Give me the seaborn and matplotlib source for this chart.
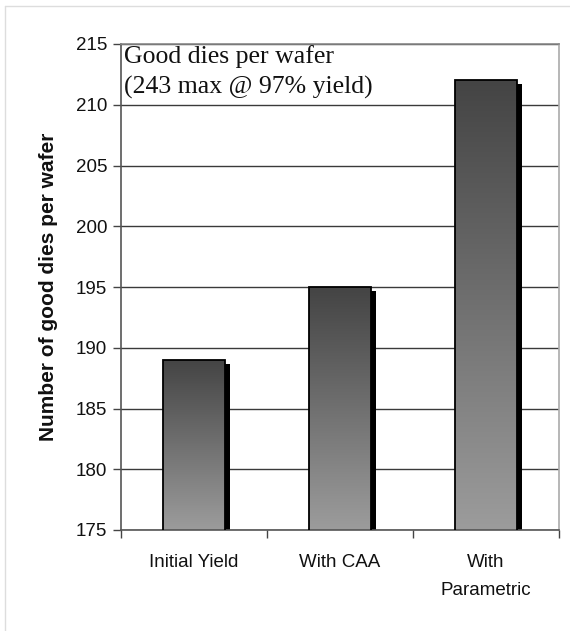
import numpy as np
import pandas as pd
import matplotlib
matplotlib.use("Agg")
import matplotlib.pyplot as plt
import seaborn as sns
from matplotlib import patheffects as pe
from matplotlib.colors import LinearSegmentedColormap
from matplotlib.patches import Rectangle
from matplotlib.lines import Line2D

# Chart data
categories = ["Initial Yield", "With CAA", "With\nParametric"]
good_dies = [189, 195, 212]
y_ticks = [175, 180, 185, 190, 195, 200, 205, 210, 215]
note_lines = ["Good dies per wafer", "(243 max @ 97% yield)"]
y_label = "Number of good dies per wafer"

sns.set_theme(style="white")
plt.rcParams["font.family"] = ["Liberation Sans", "DejaVu Sans"]

fig = plt.figure(figsize=(5.7, 6.31), dpi=100)
ax = fig.add_axes([121 / 570, 101 / 631, 438 / 570, 486 / 631])

df = pd.DataFrame({"stage": categories, "dies": good_dies})
sns.barplot(data=df, x="stage", y="dies", ax=ax, color="#777777",
            width=0.42, saturation=1, linewidth=0, zorder=2)

ymin, ymax = y_ticks[0], y_ticks[-1]
ax.set_ylim(ymin, ymax)
ax.set_xlim(-0.5, len(categories) - 0.5)

# vertical grey gradient inside each bar (dark at the top), plus a solid drop shadow
cmap = LinearSegmentedColormap.from_list("bar_grad", ["#444444", "#9c9c9c"])
grad = np.linspace(0, 1, 256).reshape(-1, 1)
shadow = [pe.SimplePatchShadow(offset=(3.6, -2.9), shadow_rgbFace="black", alpha=1.0),
          pe.Normal()]
for patch in list(ax.patches):
    x0 = patch.get_x()
    w = patch.get_width()
    top = patch.get_height()
    patch.set_path_effects(shadow)
    im = ax.imshow(grad, extent=[x0, x0 + w, ymin, top], aspect="auto",
                   cmap=cmap, origin="upper", zorder=2.5, interpolation="bilinear")
    im.set_clip_path(patch)
    ax.add_patch(Rectangle((x0, ymin - 1), w, top - ymin + 1, facecolor="none",
                           edgecolor="black", linewidth=1.3, zorder=3))

ax.set_xlim(-0.5, len(categories) - 0.5)
ax.set_ylim(ymin, ymax)

# axes styling
ax.set_yticks(y_ticks)
ax.set_yticklabels([str(t) for t in y_ticks], fontsize=13.5, color="#111111")
ax.yaxis.grid(True, color="#3a3a3a", linewidth=1.0)
ax.set_axisbelow(True)
ax.tick_params(axis="y", direction="out", length=6, width=1, color="#444444",
               left=True, pad=4)
ax.set_xticks(range(len(categories)))
ax.set_xticklabels(categories, fontsize=13.5, color="#111111", linespacing=1.85)
ax.set_xticks(np.arange(-0.5, len(categories), 1.0), minor=True)
ax.tick_params(axis="x", which="major", length=0, pad=17)
ax.tick_params(axis="x", which="minor", direction="out", length=6, width=1,
               color="#444444", bottom=True)
ax.set_xlabel("")
ax.set_ylabel(y_label, fontsize=15, fontweight="bold", color="#111111", labelpad=13)

for side, col in [("left", "#555555"), ("bottom", "#555555"),
                  ("right", "#aaaaaa"), ("top", "#888888")]:
    ax.spines[side].set_visible(True)
    ax.spines[side].set_color(col)
    ax.spines[side].set_linewidth(1.2)

ax.text(0.006, 0.997, "\n".join(note_lines), transform=ax.transAxes,
        ha="left", va="top", fontsize=18.5, family=["Liberation Serif", "DejaVu Serif"],
        color="#111111", linespacing=1.4, zorder=4)

# thin outer frame
fig.add_artist(Line2D([5 / 570, 1], [1 - 6 / 631] * 2, transform=fig.transFigure,
                      color="#dddddd", linewidth=1))
fig.add_artist(Line2D([5 / 570] * 2, [0, 1 - 6 / 631], transform=fig.transFigure,
                      color="#dddddd", linewidth=1))

fig.savefig("out.png", dpi=100)
